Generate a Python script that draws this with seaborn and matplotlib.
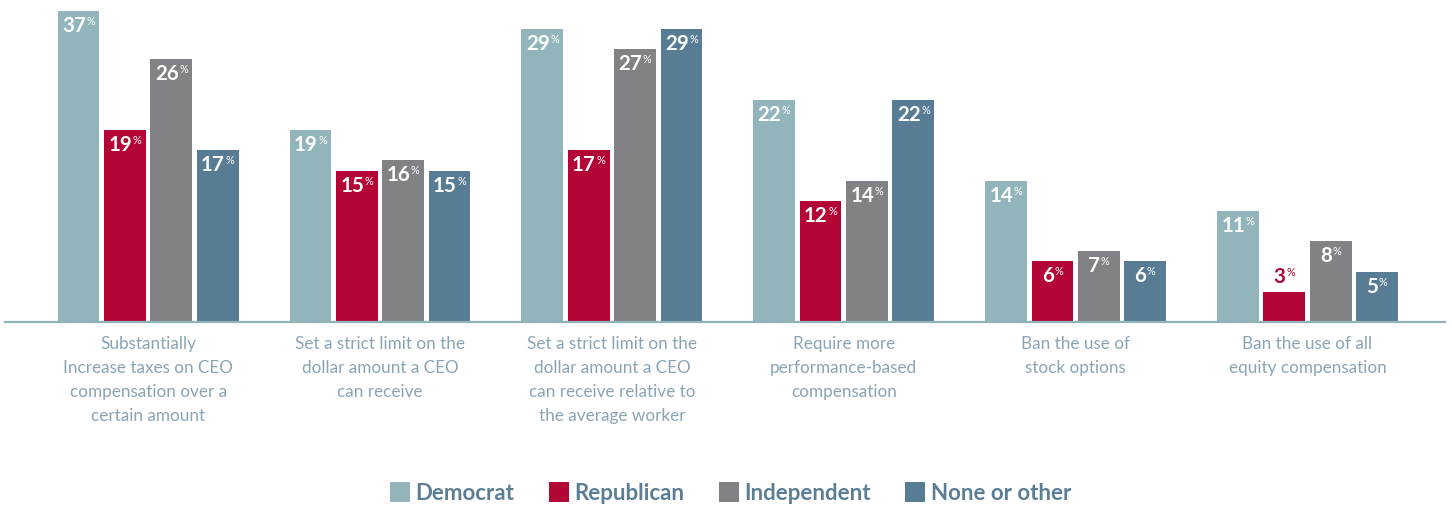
import matplotlib
matplotlib.use("Agg")
import matplotlib.pyplot as plt
from matplotlib.patches import Patch
import pandas as pd
import seaborn as sns

# Survey responses: share of each party group supporting each measure (%)
categories = [
    "Substantially\nIncrease taxes on CEO\ncompensation over a\ncertain amount",
    "Set a strict limit on the\ndollar amount a CEO\ncan receive",
    "Set a strict limit on the\ndollar amount a CEO\ncan receive relative to\nthe average worker",
    "Require more\nperformance-based\ncompensation",
    "Ban the use of\nstock options",
    "Ban the use of all\nequity compensation",
]
parties = ["Democrat", "Republican", "Independent", "None or other"]
democrat = [37, 19, 29, 22, 14, 11]
republican = [19, 15, 17, 12, 6, 3]
independent = [26, 16, 27, 14, 7, 8]
none_other = [17, 15, 29, 22, 6, 5]

palette = {
    "Democrat": "#92b5bb",
    "Republican": "#b30536",
    "Independent": "#818186",
    "None or other": "#587c93",
}
series = dict(zip(parties, [democrat, republican, independent, none_other]))

rows = [
    {"category": c, "party": p, "share": v}
    for p in parties
    for c, v in zip(categories, series[p])
]
df = pd.DataFrame(rows)

sns.set_style("white")
plt.rcParams["font.family"] = ["Lato", "DejaVu Sans"]

W, H = 1452, 508
fig = plt.figure(figsize=(W / 100, H / 100), dpi=100)
ax = fig.add_axes([5 / W, 1 - 322 / H, 1440 / W, 311 / H])

sns.barplot(
    data=df, x="category", y="share", hue="party",
    order=categories, hue_order=parties, palette=palette,
    width=0.8, gap=0.1, saturation=1, linewidth=0,
    errorbar=None, legend=False, ax=ax,
)

ymax = 30.8
ax.set_ylim(0, ymax)
ax.set_xlim(-0.617, 5.593)
ax.set_xlabel("")
ax.set_ylabel("")
ax.set_yticks([])
ax.set_xticks([])
for side in ("top", "left", "right"):
    ax.spines[side].set_visible(False)
ax.spines["bottom"].set_color("#8fb3b9")
ax.spines["bottom"].set_linewidth(1.6)

PT = 72 / 100  # points per pixel

# Category captions under each group
for i, cat in enumerate(categories):
    ax.annotate(
        cat, xy=(i, 0), xycoords=("data", "axes fraction"),
        xytext=(0, -14 * PT), textcoords="offset points",
        ha="center", va="top", fontsize=12.3, color="#8ba4b4",
        linespacing=1.62,
    )

# Value labels: bold number with a small raised percent sign
renderer = fig.canvas.get_renderer()
pairs = []
for container, party in zip(ax.containers, parties):
    for bar, v in zip(container, series[party]):
        cx = bar.get_x() + bar.get_width() / 2
        top = min(bar.get_height(), ymax)
        inside = v >= 5
        color = "white" if inside else palette[party]
        dy_num = -21 if inside else 9
        dy_pct = -14 if inside else 16
        tn = ax.annotate(
            str(v), xy=(cx, top), xytext=(0, dy_num * PT),
            textcoords="offset points", ha="left", va="baseline",
            fontsize=14.8, fontweight="bold", color=color,
        )
        tp = ax.annotate(
            "%", xy=(cx, top), xytext=(0, dy_pct * PT),
            textcoords="offset points", ha="left", va="baseline",
            fontsize=7.8, color=color,
        )
        pairs.append((tn, tp, dy_num, dy_pct))

for tn, tp, dy_num, dy_pct in pairs:
    wn = tn.get_window_extent(renderer).width
    wp = tp.get_window_extent(renderer).width
    gap = 0.5
    left = -(wn + wp + gap) / 2
    tn.xyann = (left * PT, dy_num * PT)
    tp.xyann = ((left + wn + gap) * PT, dy_pct * PT)

handles = [Patch(facecolor=palette[p], edgecolor="none") for p in parties]
fig.legend(
    handles, parties, loc="center", bbox_to_anchor=(0.503, 0.03),
    ncol=4, frameon=False, prop={"weight": "bold", "size": 16},
    labelcolor="#5b7e95", handlelength=0.9, handleheight=1.0,
    handletextpad=0.25, columnspacing=1.55,
)

fig.savefig("out.png", dpi=100)
